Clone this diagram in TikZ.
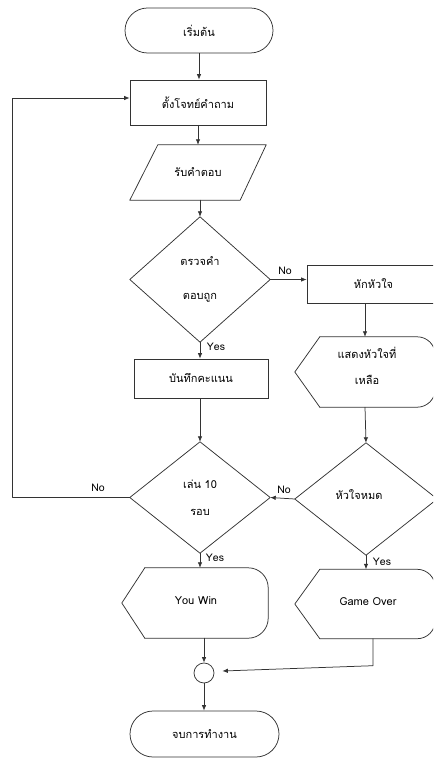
\documentclass[tikz,border=0pt]{standalone}
\usepackage{fontspec}
\setmainfont{Loma}[Script=Thai]
\usetikzlibrary{arrows.meta}
\begin{document}
\begin{tikzpicture}[x=1pt,y=-1pt,
  ln/.style={draw=black!80, line width=0.75pt, line cap=round, line join=round},
  arr/.style={ln, -{Latex[length=5.5pt,width=4.5pt]}},
  txt/.style={font=\fontsize{11}{13}\selectfont},
  box/.style={rectangle, draw=black!80, line width=0.75pt, inner sep=0pt, txt},
  ghost/.style={rectangle, inner sep=0pt, txt},
  lbl/.style={font=\fontsize{10.5}{12}\selectfont, inner sep=0pt}
]
\useasboundingbox (0,0) rectangle (433,759);
\clip (0,0) rectangle (433,759);

% nodes
\node[box, rounded corners=22.5pt, minimum width=148pt, minimum height=45pt] (start) at (199,30.5) {เริ่มต้น};
\node[box, minimum width=136pt, minimum height=45pt] (q) at (198,102.5) {ตั้งโจทย์คำถาม};
\node[ghost, minimum width=136pt, minimum height=55pt] (ans) at (198,172.5) {รับคำตอบ};
\node[ghost, minimum width=140pt, minimum height=125pt, align=center, font=\fontsize{11}{34}\selectfont] (d1) at (200,279.5) {ตรวจคำ\\ตอบถูก};
\node[box, minimum width=133pt, minimum height=38pt] (hak) at (373.5,284) {หักหัวใจ};
\node[ghost, minimum width=140pt, minimum height=70pt] (disp) at (365,372) {};
\node[ghost, align=center, font=\fontsize{11}{26}\selectfont] (disptxt) at (367,366) {แสดงหัวใจที่\\เหลือ};
\node[box, minimum width=134pt, minimum height=39pt] (save) at (201,378.5) {บันทึกคะแนน};
\node[ghost, minimum width=140pt, minimum height=111pt, align=center, font=\fontsize{11}{27}\selectfont] (d2) at (200,497.5) {เล่น 10\\รอบ};
\node[ghost, minimum width=142pt, minimum height=112pt] (d3) at (366,499) {};
\node[ghost] (d3txt) at (359,495) {หัวใจหมด};
\node[ghost, minimum width=146pt, minimum height=70pt] (win) at (195,603) {};
\node[ghost] (wintxt) at (196,601) {You Win};
\node[ghost, minimum width=140pt, minimum height=69pt] (over) at (365,604) {};
\node[ghost] (overtxt) at (368,602) {Game Over};
\node[circle, draw=black!80, line width=0.75pt, minimum size=20pt, inner sep=0pt] (circ) at (204,673) {};
\node[box, rounded corners=23pt, minimum width=149pt, minimum height=46pt] (end) at (204.5,734) {จบการทำงาน};
\coordinate (lp) at (12,0);

% outlines
\draw[ln] ([xshift=28pt]ans.north west) -- (ans.north east) -- ([xshift=-26pt]ans.south east) -- (ans.south west) -- cycle;
\draw[ln] (d1.north) -- (d1.east) -- (d1.south) -- (d1.west) -- cycle;
\draw[ln] (d2.north) -- (d2.east) -- (d2.south) -- (d2.west) -- cycle;
\draw[ln] (d3.north) -- (d3.east) -- (d3.south) -- (d3.west) -- cycle;
\draw[ln] ([xshift=25pt]disp.south west) -- (disp.west) -- ([xshift=25pt]disp.north west);
\draw[ln, rounded corners=18pt] ([xshift=25pt]disp.north west) -- (disp.north east) -- (disp.south east) -- ([xshift=25pt]disp.south west);
\draw[ln] ([xshift=23pt]win.south west) -- (win.west) -- ([xshift=23pt]win.north west);
\draw[ln, rounded corners=20pt] ([xshift=23pt]win.north west) -- (win.north east) -- (win.south east) -- ([xshift=23pt]win.south west);
\draw[ln] ([xshift=25pt]over.south west) -- (over.west) -- ([xshift=25pt]over.north west);
\draw[ln, rounded corners=18pt] ([xshift=25pt]over.north west) -- (over.north east) -- (over.south east) -- ([xshift=25pt]over.south west);

% connectors
\draw[arr] (start.south) -- (start.south |- q.north);
\draw[arr] (q.south) -- (q.south |- ans.north);
\draw[arr] (d1.north |- ans.south) -- (d1.north);
\draw[arr] (d1.east) -- (d1.east -| hak.west);
\draw[arr] (d1.south) -- (d1.south |- save.north);
\draw[arr] (disp.north |- hak.south) -- (disp.north);
\draw[arr] (d2.north |- save.south) -- (d2.north);
\draw[arr] (disp.south) -- (d3.north);
\draw[arr] (d3.west) -- (d2.east);
\draw[arr] (d2.west) -- (d2.west -| lp) |- ([yshift=4.5pt]q.west);
\draw[arr] (d2.south) -- (d2.south |- win.north);
\draw[arr] (d3.south) -- (d3.south |- over.north);
\draw[arr] (circ.north |- win.south) -- (circ.north);
\draw[arr] ([xshift=8pt]over.south) -- ++(0,27) -- ([xshift=8pt,yshift=2pt]circ.east);
\draw[arr] (circ.south) -- (circ.south |- end.north);

% labels
\node[lbl] (l1) at (285,271) {No};
\node[lbl] (l2) at (216,347) {Yes};
\node[lbl] (l3) at (98,488) {No};
\node[lbl] (l4) at (284,490) {No};
\node[lbl] (l5) at (215,558) {Yes};
\node[lbl] (l6) at (382,562) {Yes};
\end{tikzpicture}
\end{document}
